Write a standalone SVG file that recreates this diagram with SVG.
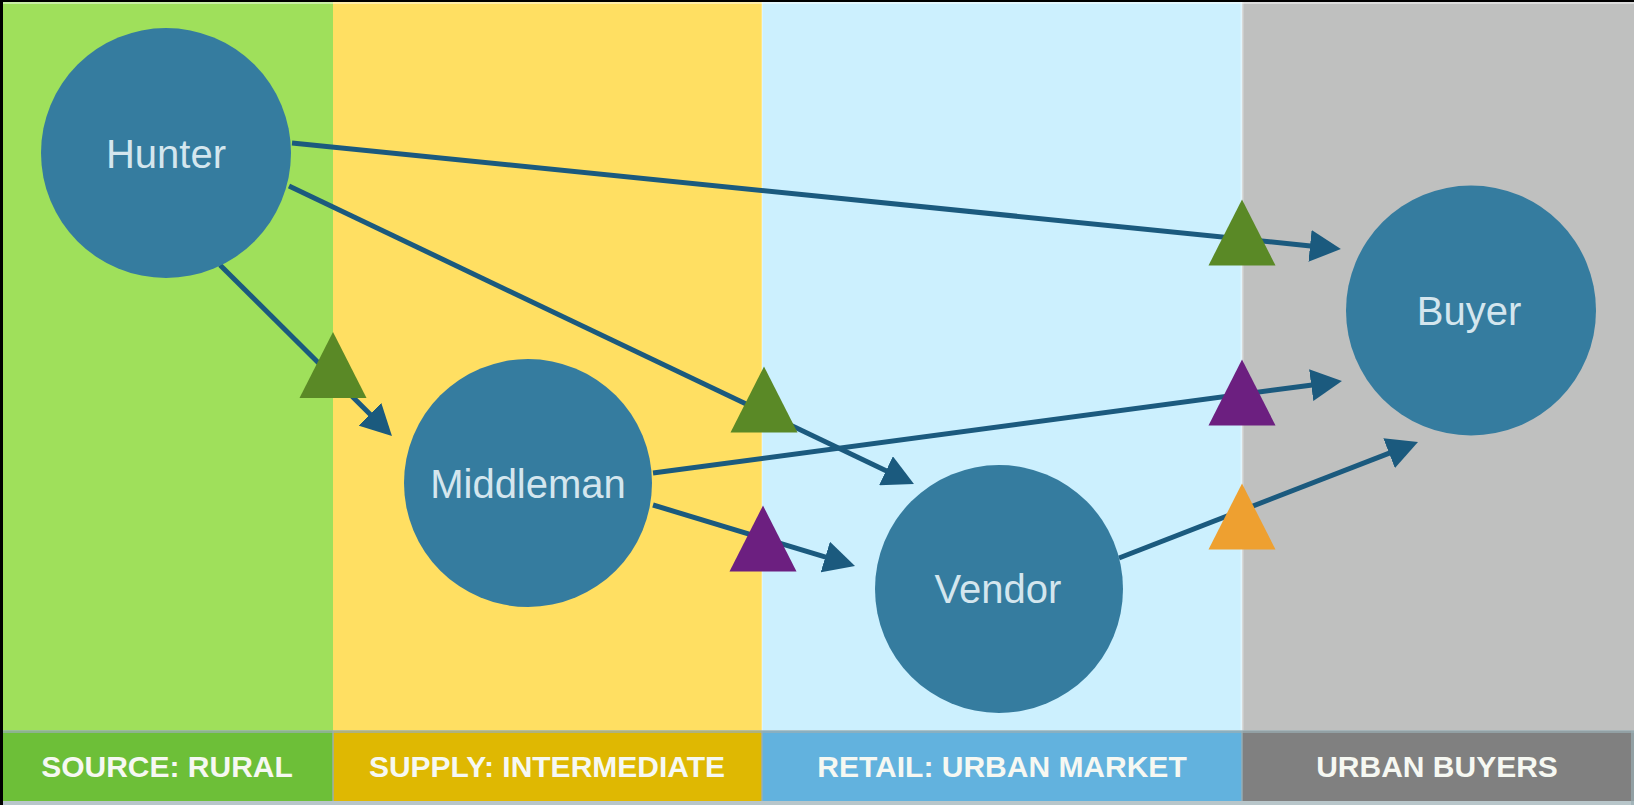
<svg xmlns="http://www.w3.org/2000/svg" width="1634" height="805" viewBox="0 0 1634 805">
  <style>
    .node { fill: #357c9f; }
    .node-label { font-family: "Liberation Sans", Arial, sans-serif; font-size: 40px; fill: #d4e6ee; text-anchor: middle; }
    .band-label { font-family: "Liberation Sans", Arial, sans-serif; font-size: 30px; font-weight: bold; fill: #f6f8f2; text-anchor: middle; }
    .link { fill: none; stroke: #1b5a7e; stroke-width: 5; marker-end: url(#head); }
    .t-green { fill: #5a8926; }
    .t-purple { fill: #6c1f80; }
    .t-orange { fill: #eea030; }
  </style>
  <defs>
    <marker id="head" markerUnits="userSpaceOnUse" viewBox="0 0 31 32" markerWidth="31" markerHeight="32" refX="3" refY="16" orient="auto">
      <path d="M0,0 L31,16 L0,32 Z" fill="#1b5a7e"/>
    </marker>
    <path id="tri" d="M0,-33 L33.5,33 L-33.5,33 Z"/>
  </defs>

  <!-- background bands -->
  <g id="bands">
    <rect x="0" y="0" width="333" height="731" fill="#9fe05b"/>
    <rect x="333" y="0" width="429" height="731" fill="#ffdf62"/>
    <rect x="762" y="0" width="480" height="731" fill="#ccf0fe"/>
    <rect x="1242" y="0" width="392" height="731" fill="#bfc0bf"/>
    <line x1="762" y1="0" x2="762" y2="731" stroke="#ffffff" stroke-opacity="0.25" stroke-width="2"/>
    <line x1="1242" y1="0" x2="1242" y2="731" stroke="#ffffff" stroke-opacity="0.4" stroke-width="3"/>

    <rect x="0" y="731" width="333" height="70" fill="#6dbf38"/>
    <rect x="333" y="731" width="429" height="70" fill="#dfb802"/>
    <rect x="762" y="731" width="480" height="70" fill="#62b2de"/>
    <rect x="1242" y="731" width="392" height="70" fill="#808080"/>
    <g stroke="#9aaeb4" stroke-opacity="0.7">
      <line x1="0" y1="731.5" x2="1634" y2="731.5" stroke-width="3"/>
      <line x1="0" y1="803" x2="1634" y2="803" stroke-width="4"/>
      <line x1="1632.5" y1="731" x2="1632.5" y2="805" stroke-width="3"/>
      <line x1="333" y1="731" x2="333" y2="801" stroke-width="2"/>
      <line x1="762" y1="731" x2="762" y2="801" stroke-width="2"/>
      <line x1="1242" y1="731" x2="1242" y2="801" stroke-width="2"/>
    </g>

    <text class="band-label" x="167" y="777">SOURCE: RURAL</text>
    <text class="band-label" x="547" y="777">SUPPLY: INTERMEDIATE</text>
    <text class="band-label" x="1002" y="777">RETAIL: URBAN MARKET</text>
    <text class="band-label" x="1437" y="777">URBAN BUYERS</text>
  </g>

  <!-- frame edges -->
  <rect x="0" y="0" width="1634" height="2" fill="#000000"/>
  <rect x="0" y="2" width="1634" height="2" fill="#ffffff" fill-opacity="0.45"/>
  <rect x="0" y="0" width="3" height="805" fill="#000000"/>

  <!-- connectors -->
  <g id="connectors">
    <line class="link" x1="292" y1="143" x2="1313" y2="246.2"/>
    <line class="link" x1="220" y1="265" x2="372.1" y2="416.3"/>
    <line class="link" x1="289" y1="186" x2="888.7" y2="472"/>
    <line class="link" x1="653" y1="473" x2="1314.2" y2="384.7"/>
    <line class="link" x1="653" y1="505" x2="828.2" y2="557.9"/>
    <line class="link" x1="1119" y1="558" x2="1391.9" y2="452.1"/>
  </g>

  <!-- hand-off markers on the band boundaries -->
  <g id="handoffs">
    <use href="#tri" class="t-green" x="1242" y="232.5"/>
    <use href="#tri" class="t-green" x="333" y="365"/>
    <use href="#tri" class="t-green" x="764" y="399.5"/>
    <use href="#tri" class="t-purple" x="1242" y="392.5"/>
    <use href="#tri" class="t-purple" x="763" y="538.5"/>
    <use href="#tri" class="t-orange" x="1242" y="516.5"/>
  </g>

  <!-- nodes -->
  <g id="hunter">
    <circle class="node" cx="166" cy="153" r="125"/>
    <text class="node-label" x="166" y="168">Hunter</text>
  </g>
  <g id="middleman">
    <circle class="node" cx="528" cy="483" r="124"/>
    <text class="node-label" x="528" y="498">Middleman</text>
  </g>
  <g id="vendor">
    <circle class="node" cx="999" cy="589" r="124"/>
    <text class="node-label" x="998" y="603">Vendor</text>
  </g>
  <g id="buyer">
    <circle class="node" cx="1471" cy="310.5" r="125"/>
    <text class="node-label" x="1469" y="325">Buyer</text>
  </g>
</svg>
